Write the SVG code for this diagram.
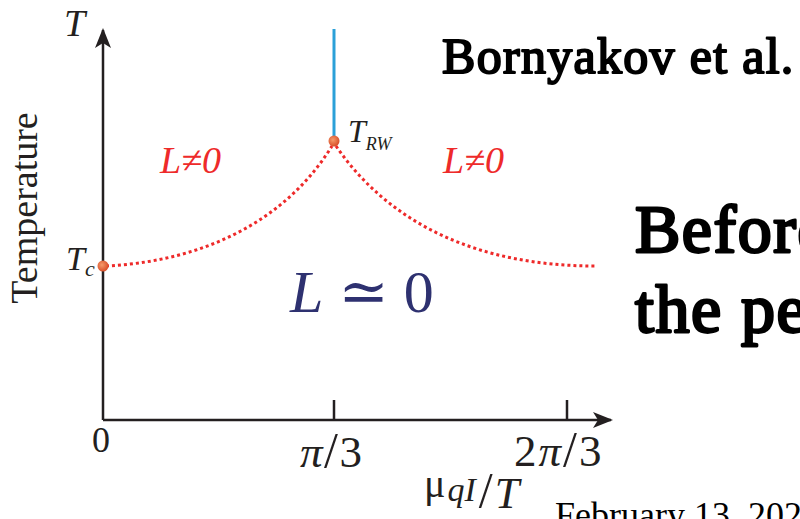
<svg xmlns="http://www.w3.org/2000/svg" width="800" height="519" viewBox="0 0 800 519" font-family="'Liberation Serif', 'DejaVu Serif', serif">
<defs>
<marker id="arr" viewBox="0 0 20 16" refX="18" refY="8" markerWidth="20" markerHeight="16" markerUnits="userSpaceOnUse" orient="auto">
<path d="M0,0 L20,8 L0,16 L5,8 Z" fill="#231f20"/>
</marker>
<radialGradient id="dot" cx="0.4" cy="0.4" r="0.6">
<stop offset="0" stop-color="#f59a6a"/>
<stop offset="1" stop-color="#d9502a"/>
</radialGradient>
</defs>
<style>
text{font-family:'Liberation Serif','DejaVu Serif',serif}
.ser{fill:#231f20}
.it{font-style:italic}
.red{fill:#ee2a2a}
.bold{fill:#000;stroke:#000;stroke-linejoin:round}
.axis{stroke:#231f20;stroke-width:2.5;fill:none}
.dotted{stroke:#ee2a2a;stroke-width:3;stroke-dasharray:3 3;fill:none}
</style>
<rect width="800" height="519" fill="#fff"/>
<g id="connectors">
<line class="axis" x1="103" y1="420" x2="103" y2="30" marker-end="url(#arr)"/>
<line class="axis" x1="103" y1="420" x2="611" y2="420" marker-end="url(#arr)"/>
<line class="axis" x1="334" y1="400" x2="334" y2="420" stroke-width="2"/>
<line class="axis" x1="567" y1="400" x2="567" y2="420" stroke-width="2"/>
<line x1="334" y1="29" x2="334" y2="141" stroke="#2ba0d8" stroke-width="3"/>
<path class="dotted" d="M106,266 C190,262 280,230 332,146"/>
<path class="dotted" d="M336,146 C390,225 480,266 595,266"/>
</g>
<g id="Tc"><circle cx="103" cy="266" r="5.5" fill="url(#dot)"/></g>
<g id="TRW"><circle cx="334" cy="141" r="5.5" fill="url(#dot)"/></g>
<text class="ser it" x="64" y="36" font-size="38">T</text>
<text class="ser" x="0" y="0" font-size="38" transform="translate(37,208) rotate(-90)" text-anchor="middle">Temperature</text>
<text class="ser it" x="66" y="270" font-size="34">T<tspan font-size="22" dy="6">c</tspan></text>
<text class="ser it" x="348" y="142" font-size="32">T<tspan font-size="18" dy="8">RW</tspan></text>
<text class="ser it red" x="160" y="173" font-size="38">L≠0</text>
<text class="ser it red" x="443" y="173" font-size="38">L≠0</text>
<text class="ser" x="290" y="312" font-size="60" style="fill:#2e3170"><tspan font-style="italic">L</tspan> ≃ 0</text>
<text class="ser bold" x="442" y="73" font-size="50" stroke-width="2" letter-spacing="1.3">Bornyakov et al.</text>
<text class="ser bold" x="635" y="252" font-size="68" stroke-width="2.8" letter-spacing="1.5">Before</text>
<text class="ser bold" x="635" y="332" font-size="68" stroke-width="2.8" letter-spacing="1.5">the pe</text>
<text class="ser" x="101" y="452" font-size="36" text-anchor="middle">0</text>
<text class="ser" x="300" y="467" font-size="45" letter-spacing="1.5"><tspan font-style="italic">π</tspan><tspan font-size="50">/</tspan>3</text>
<text class="ser" x="514" y="466" font-size="45" letter-spacing="2">2<tspan font-style="italic">π</tspan><tspan font-size="50">/</tspan>3</text>
<text class="ser" x="424" y="497" font-size="40">μ<tspan font-style="italic" font-size="34" dy="4" dx="2">qI</tspan><tspan font-size="50" dy="6" dx="3">/</tspan><tspan font-style="italic" font-size="44" dy="1" dx="2">T</tspan></text>
<text class="ser" x="555" y="527" font-size="36" style="fill:#000">February 13, 2025</text>
</svg>
